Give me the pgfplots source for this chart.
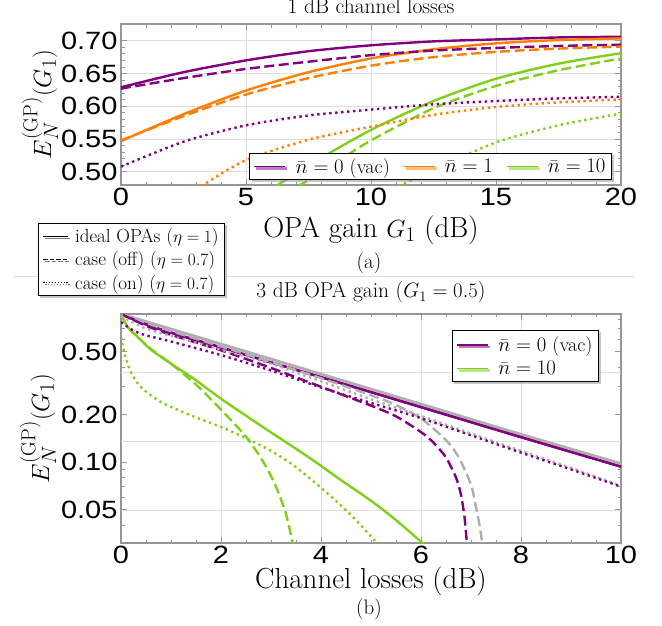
\documentclass[border=0pt]{standalone}
\usepackage{fontspec}
\newfontfamily\tickfont[FakeStretch=1.16]{Liberation Sans}
\usepackage{pgfplots}
\pgfplotsset{compat=1.18}
\usetikzlibrary{shadows}

\definecolor{cpurple}{RGB}{128,0,128}
\definecolor{corange}{RGB}{255,128,0}
\definecolor{cgreen}{RGB}{128,208,26}
\definecolor{cgrey}{RGB}{175,175,175}
\definecolor{framegray}{RGB}{150,150,150}
\definecolor{gridgray}{RGB}{222,222,222}

\tikzset{
  lsol/.style={line width=2.4pt},
  ldash/.style={line width=2.4pt, dash pattern=on 10pt off 4.5pt},
  ldot/.style={line width=2.4pt, dash pattern=on 2.4pt off 3.6pt},
}

\pgfplotsset{
  panel/.style={
    scale only axis, width=500pt,
    axis line style={framegray, line width=1.2pt},
    tick style={framegray, line width=0.9pt},
    major tick length=6pt, minor tick length=3.5pt,
    tick align=inside,
    grid style={gridgray, line width=1pt},
    tick label style={font=\tickfont\fontsize{25}{25}\selectfont},
    label style={font=\fontsize{29}{32}\selectfont},
    title style={font=\fontsize{21.5}{24}\selectfont},
    legend cell align=left,
    legend image code/.code={\draw[##1, line width=1.6pt, solid] (0pt,0pt) -- (31pt,0pt); \path (35pt,0pt);},
    legend style={draw=black, line width=0.9pt, fill=white,
      font=\fontsize{20}{23}\selectfont, inner xsep=4pt, inner ysep=3pt,
      /tikz/every odd column/.append style={column sep=3pt},
      drop shadow={shadow xshift=2pt, shadow yshift=-2pt, fill=black!45}},
    every axis plot/.append style={smooth, tension=0.45},
  },
}

\begin{document}
\begin{tikzpicture}
\path[use as bounding box] (0pt,0pt) rectangle (662pt,-626pt);

% ---------- (a) 1 dB channel losses
\begin{axis}[panel, height=161pt, at={(121pt,-24pt)}, anchor=north west,
  xmin=0, xmax=20, ymin=0.48, ymax=0.7255,
  xtick={0,5,10,15,20}, xticklabels={0,5,10,15,20},
  ytick={0.5,0.55,0.6,0.65,0.7}, yticklabels={0.50,0.55,0.60,0.65,0.70},
  minor x tick num=4, minor y tick num=4,
  xmajorgrids, ymajorgrids,
  title={1 dB channel losses},
  title style={at={(axis description cs:0.5,1.03)}, anchor=base},
  xlabel={OPA gain $G_1$ (dB)},
  xlabel style={at={(axis description cs:0.5,-0.323)}, anchor=base},
  ylabel={$E_N^{(\mathrm{GP})}(G_1)$},
  ylabel style={at={(axis description cs:-0.162,0.5)}, anchor=center},
  legend columns=3,
  legend style={at={(axis description cs:0.982,0.031)}, anchor=south east,
    /tikz/every even column/.append style={column sep=11pt}},
]
\addplot[cpurple, lsol] coordinates {(0,0.629)(2.5,0.652)(5,0.670)(7.5,0.684)(10,0.693)(12.5,0.699)(15,0.702)(17.5,0.705)(20,0.706)};
\addlegendentry{$\bar n=0$ (vac)}
\addplot[corange, lsol] coordinates {(0,0.547)(2.5,0.588)(5,0.624)(7.5,0.652)(10,0.673)(12.5,0.687)(15,0.696)(17.5,0.701)(20,0.7035)};
\addlegendentry{$\bar n=1$}
\addplot[cgreen, lsol] coordinates {(6.2,0.478)(7.5,0.510)(10,0.564)(12.5,0.608)(15,0.642)(17.5,0.665)(20,0.681)};
\addlegendentry{$\bar n=10$}
\addplot[cpurple, ldash, forget plot] coordinates {(0,0.627)(2.5,0.643)(5,0.657)(7.5,0.668)(10,0.678)(12.5,0.685)(15,0.689)(17.5,0.692)(20,0.694)};
\addplot[corange, ldash, forget plot] coordinates {(0,0.548)(2.5,0.585)(5,0.618)(7.5,0.643)(10,0.662)(12.5,0.675)(15,0.683)(17.5,0.688)(20,0.691)};
\addplot[cgreen, ldash, forget plot] coordinates {(7.1,0.478)(8.5,0.512)(10,0.548)(12.5,0.597)(15,0.631)(17.5,0.655)(20,0.673)};
\addplot[cpurple, ldot, forget plot] coordinates {(0,0.508)(2.5,0.546)(5,0.571)(7.5,0.586)(10,0.595)(12.5,0.603)(15,0.608)(17.5,0.612)(20,0.6145)};
\addplot[corange, ldot, forget plot] coordinates {(3.2,0.478)(5,0.518)(7.5,0.549)(10,0.569)(12.5,0.587)(15,0.599)(17.5,0.606)(20,0.6105)};
\addplot[cgreen, ldot, forget plot] coordinates {(11.1,0.478)(12.5,0.503)(15,0.545)(17.5,0.571)(20,0.589)};
\end{axis}

\node[anchor=base, font=\fontsize{21}{24}\selectfont] at (369pt,-268pt) {(a)};
\draw[gridgray, line width=1pt] (13pt,-276pt) -- (635pt,-276pt);

% ---------- (b) 3 dB OPA gain
\begin{axis}[panel, height=229pt, at={(121pt,-314pt)}, anchor=north west,
  ymode=log,
  xmin=0, xmax=10, ymin=0.0308, ymax=0.866,
  xtick={0,2,4,6,8,10}, xticklabels={0,2,4,6,8,10},
  ytick={0.05,0.1,0.2,0.5}, yticklabels={0.05,0.10,0.20,0.50},
  minor x tick num=3,
  minor ytick={0.04,0.06,0.07,0.08,0.09,0.3,0.4,0.6,0.7,0.8},
  xmajorgrids,
  extra y ticks={0.367879,0.135335,0.049787}, extra y tick labels={},
  extra y tick style={grid=major, major tick length=0pt},
  title={3 dB OPA gain ($G_1=0.5$)},
  title style={at={(axis description cs:0.5,1.0437)}, anchor=base},
  xlabel={Channel losses (dB)},
  xlabel style={at={(axis description cs:0.5,-0.1965)}, anchor=base},
  ylabel={$E_N^{(\mathrm{GP})}(G_1)$},
  ylabel style={at={(axis description cs:-0.166,0.5)}, anchor=center},
  legend style={at={(axis description cs:0.956,0.930)}, anchor=north east,
    row sep=4pt, inner ysep=4pt},
]
\addplot[cpurple, lsol] coordinates {(0,0.866)(0.25,0.80)(0.5,0.745)(1,0.66)(2,0.532)(3,0.428)(4,0.345)(6,0.223)(8,0.144)(10,0.0937)};
\addlegendentry{$\bar n=0$ (vac)}
\addplot[cgreen, lsol] coordinates {(0,0.866)(0.13,0.72)(0.33,0.622)(0.6,0.515)(1,0.42)(1.47,0.335)(2,0.252)(2.8,0.17)(3.8,0.105)(4.4,0.077)(5,0.057)(5.5,0.043)(6.07,0.030)};
\addlegendentry{$\bar n=10$}
\addplot[cgrey, lsol, line width=2.8pt, forget plot] coordinates {(0,0.866)(2,0.559)(4,0.361)(6,0.233)(8,0.150)(10,0.098)};
\addplot[cpurple, lsol, forget plot] coordinates {(0,0.866)(0.25,0.80)(0.5,0.745)(1,0.66)(2,0.532)(3,0.428)(4,0.345)(6,0.223)(8,0.144)(10,0.0937)};
\addplot[cgrey, ldash, forget plot] coordinates {(0,0.866)(0.5,0.76)(1,0.675)(2,0.54)(3,0.43)(4,0.34)(5,0.265)(5.5,0.23)(6,0.189)(6.5,0.138)(6.75,0.108)(7.0,0.072)(7.1,0.052)(7.17,0.040)(7.23,0.030)};
\addplot[cpurple, ldash, forget plot] coordinates {(0,0.866)(0.5,0.73)(1,0.64)(2,0.51)(3,0.395)(4,0.30)(5,0.228)(5.5,0.195)(6,0.155)(6.25,0.133)(6.5,0.107)(6.7,0.080)(6.8,0.062)(6.87,0.045)(6.92,0.030)};
\addplot[cgreen, ldash, forget plot] coordinates {(0,0.866)(0.13,0.72)(0.33,0.62)(0.6,0.52)(1,0.42)(1.5,0.31)(2,0.215)(2.5,0.145)(2.85,0.10)(3.1,0.07)(3.3,0.047)(3.44,0.030)};
\addplot[cgrey, ldot, forget plot] coordinates {(0,0.84)(0.5,0.70)(1,0.63)(2,0.515)(3,0.42)(3.6,0.36)(4,0.325)(5,0.25)(6,0.196)(7,0.152)(8,0.118)(9,0.092)(10,0.071)};
\addplot[cpurple, ldot, forget plot] coordinates {(0,0.77)(0.25,0.68)(0.5,0.635)(1,0.58)(2,0.476)(3,0.38)(4,0.297)(5,0.237)(6,0.19)(7,0.148)(8,0.115)(9,0.090)(10,0.070)};
\addplot[cgreen, ldot, forget plot] coordinates {(0,0.62)(0.05,0.52)(0.1,0.45)(0.2,0.37)(0.35,0.31)(0.5,0.28)(0.8,0.24)(1.2,0.21)(1.5,0.192)(2,0.167)(2.5,0.142)(3,0.118)(3.4,0.098)(3.8,0.078)(4.27,0.058)(4.7,0.043)(5.15,0.030)};
\end{axis}

\node[anchor=base, font=\fontsize{21}{24}\selectfont] at (369pt,-614pt) {(b)};

% ---------- line-style key
\begin{axis}[hide axis, scale only axis, width=10pt, height=10pt,
  at={(38pt,-223pt)}, anchor=north west,
  xmin=0, xmax=1, ymin=0, ymax=1,
  legend cell align=left,
  legend image code/.code={\draw[#1] (0pt,0pt) -- (25pt,0pt); \path (29pt,0pt);},
  legend style={at={(axis description cs:0,1)}, anchor=north west,
    draw=black, line width=0.9pt, fill=white,
    font=\fontsize{19}{21}\selectfont, row sep=3.5pt,
    inner xsep=4pt, inner ysep=3pt,
    drop shadow={shadow xshift=2pt, shadow yshift=-2pt, fill=black!45}},
]
\addlegendimage{black, line width=1.6pt}
\addlegendentry{ideal OPAs ($\eta=1$)}
\addlegendimage{black, line width=1.6pt, dash pattern=on 4.5pt off 2pt}
\addlegendentry{case (off) ($\eta=0.7$)}
\addlegendimage{black, line width=1.3pt, dash pattern=on 1.3pt off 1.6pt}
\addlegendentry{case (on) ($\eta=0.7$)}
\end{axis}
\end{tikzpicture}
\end{document}
